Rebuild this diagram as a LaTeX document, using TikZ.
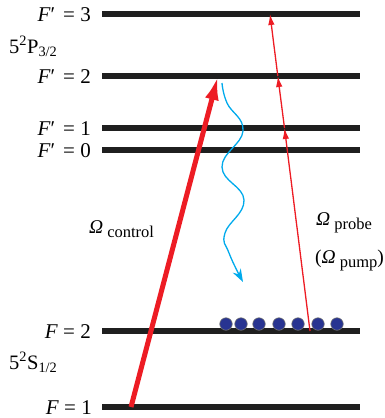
\documentclass[tikz,border=0pt]{standalone}
\usepackage{fontspec}
\setmainfont{Liberation Serif}
\usetikzlibrary{arrows.meta}
\definecolor{laserred}{RGB}{237,28,36}
\definecolor{decayblue}{RGB}{0,170,236}
\definecolor{atomblue}{RGB}{40,52,145}
\tikzset{
	level/.style={line width=5.5pt, black!88},
	lvllabel/.style={font=\fontsize{21}{25}\selectfont, anchor=base east, inner sep=0pt},
	termlabel/.style={font=\fontsize{20.5}{24}\selectfont, anchor=base west, inner sep=0pt},
	rabilabel/.style={font=\fontsize{19.5}{23}\selectfont, anchor=base west, inner sep=0pt},
	atom/.style={circle, fill=atomblue, draw=black!55, line width=0.6pt, minimum size=12.5pt, inner sep=0pt},
	control/.style={laserred, line width=5pt, -{Latex[length=24pt, width=14pt]}},
	probe/.style={laserred, line width=1.3pt, -{Latex[length=11pt, width=6.5pt]}},
	decay/.style={decayblue, line width=1.3pt, -{Stealth[length=13pt, width=9pt]}}
}
\newcommand{\rabisub}[1]{\hspace{4pt}\raisebox{-4pt}{\fontsize{16.5}{20}\selectfont #1}}
\begin{document}
\begin{tikzpicture}[x=1pt, y=-1pt]
	\useasboundingbox (0,0) rectangle (385,418);
	% niveaux
	\foreach \n/\y in {e3/14, e2/76, e1/128, e0/150, g2/331, g1/407} {
		\coordinate (\n-w) at (102,\y);
		\coordinate (\n-e) at (360,\y);
		\draw[level] (\n-w) -- (\n-e);
	}
	\node[lvllabel] (le3) at (91,21) {\textit{F}′\hspace{8pt}= 3};
	\node[lvllabel] (le2) at (91,83) {\textit{F}′\hspace{8pt}= 2};
	\node[lvllabel] (le1) at (91,135) {\textit{F}′\hspace{8pt}= 1};
	\node[lvllabel] (le0) at (91,157) {\textit{F}′\hspace{8pt}= 0};
	\node[lvllabel] (lg2) at (91,338) {\textit{F} = 2};
	\node[lvllabel] (lg1) at (92,414) {\textit{F} = 1};
	\node[termlabel] (p32) at (9,53) {5\textsuperscript{2}P\textsubscript{3/2}};
	\node[termlabel] (s12) at (9,369) {5\textsuperscript{2}S\textsubscript{1/2}};
	% atomes
	\foreach \x [count=\i] in {226,241,259,279,298,318,337}
		\node[atom] (atom\i) at (\x,324) {};
	% faisceaux
	\coordinate (cbot) at (131,407);
	\coordinate (ctop) at (218,76);
	\draw[control] (cbot) -- (ctop);
	\coordinate (pbot) at (310,331);
	\coordinate (p1) at (284.5,128);
	\coordinate (p2) at (277.8,76);
	\coordinate (p3) at (270,14);
	\draw[probe] (pbot) -- (p1);
	\draw[probe] (p1) -- (p2);
	\draw[probe] (p2) -- (p3);
	% emission spontanee
	\draw[decay] plot[smooth, tension=0.75] coordinates {(222,83) (227,103) (243,131) (222,167) (244,200) (225,233) (229,253) (243,282)};
	\node[rabilabel] (wc) at (89,233) {\textit{Ω}\rabisub{control}};
	\node[rabilabel] (wp) at (316,225) {\textit{Ω}\rabisub{probe}};
	\node[rabilabel] (wpp) at (315,263) {(\textit{Ω}\rabisub{pump})};
\end{tikzpicture}
\end{document}
